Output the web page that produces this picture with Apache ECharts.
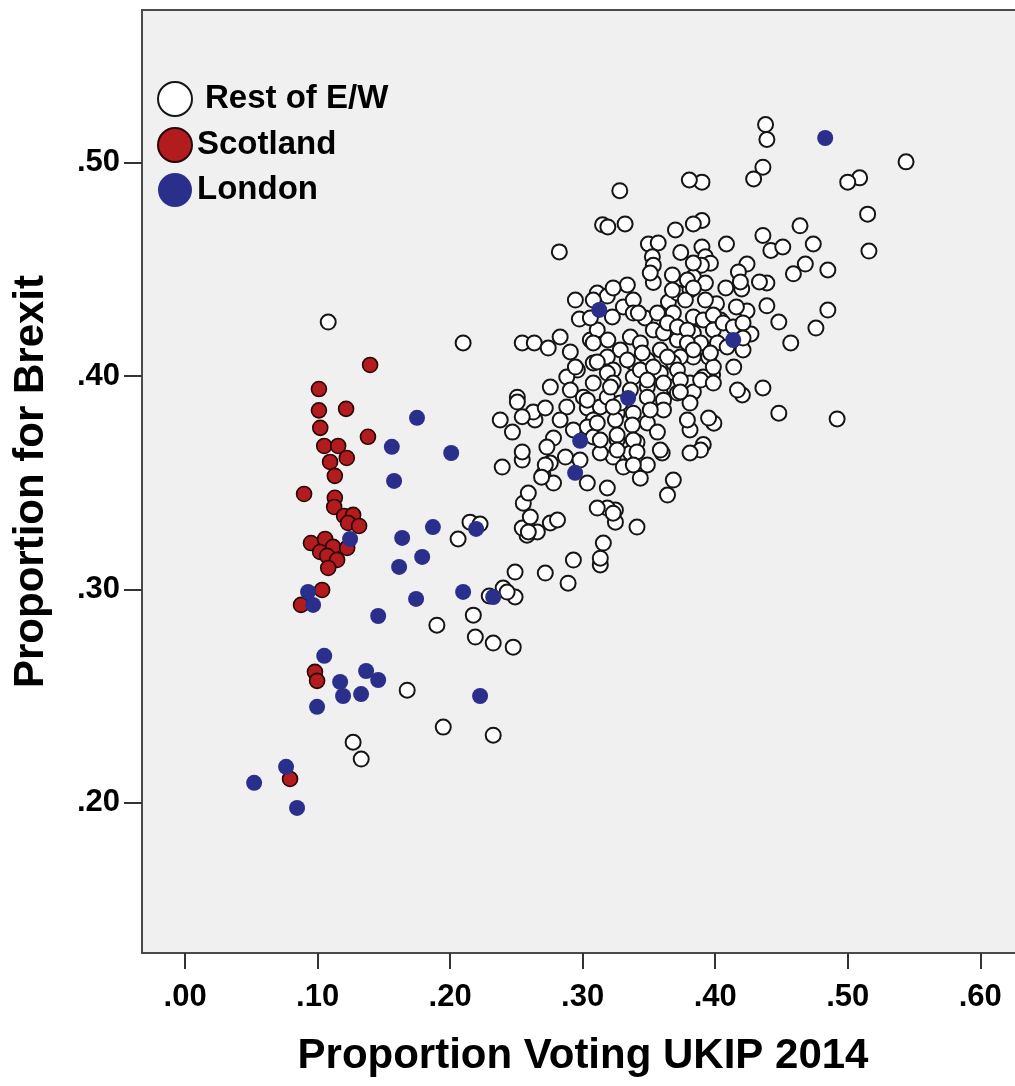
<!DOCTYPE html>
<html>
<head>
<meta charset="utf-8">
<script src="https://cdn.jsdelivr.net/npm/echarts@6/dist/echarts.min.js"></script>
<style>
html,body{margin:0;padding:0;background:#fff;}
#c{width:1015px;height:1086px;}
</style>
</head>
<body>
<div id="c"></div>
<script>
// ---- Data ----
const xTicks = [0, 0.1, 0.2, 0.3, 0.4, 0.5, 0.6];
const yTicks = [0.2, 0.3, 0.4, 0.5];
const xTitle = 'Proportion Voting UKIP 2014';
const yTitle = 'Proportion for Brexit';
const seriesNames = ['Rest of E/W', 'Scotland', 'London'];

const restEW = [
[0.438,0.518],[0.439,0.511],[0.544,0.5005],[0.436,0.498],[0.429,0.4925],[0.509,0.493],[0.500,0.491],[0.390,0.491],[0.3805,0.492],[0.328,0.487],
[0.515,0.476],[0.464,0.4705],[0.390,0.473],[0.516,0.4587],[0.436,0.466],[0.474,0.462],[0.442,0.459],[0.451,0.4606],[0.4085,0.462],[0.468,0.4526],
[0.459,0.448],[0.485,0.4498],[0.424,0.4526],[0.4175,0.4489],[0.439,0.4437],[0.408,0.4414],[0.420,0.4409],[0.439,0.433],[0.485,0.431],[0.424,0.4306],
[0.416,0.4325],[0.401,0.434],[0.448,0.4254],[0.476,0.4226],[0.427,0.4198],[0.404,0.4264],[0.457,0.4156],[0.421,0.4123],[0.414,0.4043],[0.398,0.4006],
[0.436,0.3945],[0.4205,0.3912],[0.448,0.3827],[0.492,0.38],[0.399,0.378],[0.391,0.368],
[0.2824,0.4583],[0.315,0.471],[0.319,0.470],[0.332,0.4714],[0.370,0.4686],[0.3835,0.4714],[0.374,0.458],[0.3496,0.462],[0.357,0.4625],[0.3526,0.456],
[0.3533,0.452],[0.3533,0.444],[0.390,0.4606],[0.3926,0.456],[0.3964,0.453],[0.3896,0.452],[0.3677,0.4475],[0.3835,0.4465],[0.3926,0.4437],[0.4334,0.4442],
[0.2098,0.4156],[0.2544,0.4156],[0.2635,0.4156],[0.274,0.4132],[0.283,0.4184],[0.2907,0.4114],[0.2945,0.4357],[0.311,0.439],[0.3186,0.4376],[0.3337,0.4428],
[0.2975,0.4268],[0.3224,0.4278],[0.3058,0.417],[0.311,0.4217],[0.3307,0.4325],[0.3382,0.4357],[0.3382,0.4296],[0.3647,0.4348],[0.3715,0.439],[0.381,0.4404],
[0.3775,0.4357],[0.3926,0.4357],[0.347,0.4273],[0.3533,0.4217],[0.3684,0.4296],[0.3835,0.4278],[0.391,0.4264],[0.4017,0.4254],[0.361,0.4203],[0.3715,0.417],
[0.3835,0.4203],[0.389,0.4156],[0.395,0.409],[0.3835,0.409],[0.3737,0.409],[0.3586,0.4123],[0.3488,0.4076],[0.3382,0.4062],[0.3284,0.4123],[0.319,0.417],
[0.3186,0.409],[0.308,0.4062],[0.296,0.4029],[0.288,0.3996],[0.2756,0.3949],[0.2507,0.3902],[0.323,0.4029],[0.3382,0.3996],[0.3488,0.3949],[0.3586,0.4015],
[0.3684,0.3949],[0.381,0.3968],[0.391,0.3996],[0.3986,0.4043],[0.4168,0.3935],[0.395,0.3804],[0.3835,0.3926],[0.381,0.3874],[0.381,0.3748],[0.389,0.3654],
[0.381,0.364],[0.3715,0.3921],[0.361,0.3888],[0.361,0.3842],[0.3488,0.3902],[0.3488,0.3781],[0.3382,0.3827],[0.3375,0.3771],[0.326,0.3827],[0.3247,0.3795],
[0.341,0.3691],[0.326,0.3701],[0.323,0.3621],[0.336,0.364],[0.3307,0.3574],[0.3488,0.3584],[0.360,0.364],[0.3435,0.3522],[0.3684,0.3513],[0.364,0.3443],
[0.341,0.3293],[0.3247,0.3316],[0.3247,0.3373],[0.3186,0.3382],[0.311,0.3382],[0.3186,0.3476],[0.3035,0.3499],[0.3156,0.3218],[0.3133,0.3115],[0.3133,0.3147],
[0.293,0.3138],[0.289,0.303],[0.2718,0.3077],[0.249,0.3082],[0.249,0.2965],[0.240,0.3007],[0.2175,0.288],[0.219,0.2777],[0.2325,0.2749],[0.2476,0.273],
[0.2756,0.3312],[0.281,0.3326],[0.2658,0.327],[0.258,0.3255],[0.2544,0.3288],[0.2605,0.334],[0.2552,0.3405],[0.259,0.3452],[0.206,0.3237],[0.215,0.3316],
[0.2393,0.3574],[0.2544,0.3607],[0.2544,0.3645],[0.247,0.3738],[0.2378,0.3795],[0.2507,0.3879],[0.264,0.3795],[0.2627,0.3832],[0.2718,0.3851],[0.2945,0.4043],
[0.311,0.4067],[0.3186,0.4015],[0.323,0.3968],[0.308,0.3968],[0.3005,0.3902],[0.2907,0.3935],[0.288,0.3856],[0.3035,0.3851],[0.3133,0.3856],[0.308,0.3795],
[0.283,0.3795],[0.293,0.3748],[0.278,0.371],[0.273,0.3668],[0.2756,0.3593],[0.270,0.3537],[0.278,0.3499],[0.3035,0.3762],[0.308,0.3715],[0.3133,0.364],
[0.287,0.3621],[0.3186,0.3902],[0.3284,0.3874],[0.336,0.3935],[0.3435,0.4029],[0.3337,0.4076],[0.3533,0.4043],[0.3684,0.4062],[0.389,0.3982],[0.3986,0.3968],
[0.2544,0.381],[0.2718,0.3584],[0.269,0.3527],[0.298,0.3607],[0.259,0.327],[0.323,0.3358],[0.108,0.4254],[0.243,0.2988],[0.190,0.2833],[0.1676,0.2528],
[0.1948,0.2355],[0.2325,0.2317],[0.1268,0.2284],[0.1329,0.2205],[0.2295,0.297],[0.2226,0.3307],
[0.351,0.4484],[0.3835,0.4531],[0.379,0.4451],[0.3835,0.4414],[0.419,0.4442],[0.3986,0.4287],[0.3677,0.4404],[0.3564,0.4296],[0.342,0.4296],[0.323,0.4414],
[0.308,0.4357],[0.3058,0.4273],[0.364,0.425],[0.3715,0.4231],[0.379,0.4217],[0.3986,0.4217],[0.406,0.425],[0.4137,0.4231],[0.421,0.425],[0.421,0.4179],
[0.336,0.4184],[0.3435,0.4156],[0.379,0.4156],[0.4017,0.4156],
[0.308,0.4156],[0.345,0.4109],[0.364,0.409],[0.3835,0.4123],[0.3964,0.4109],[0.409,0.4137],[0.3488,0.3982],[0.3715,0.4029],[0.3737,0.3982],[0.361,0.3968],
[0.321,0.3949],[0.3035,0.3888],[0.323,0.3856],[0.351,0.3842],[0.3737,0.3926],[0.311,0.3781],[0.326,0.3724],[0.3133,0.3701],[0.3382,0.3701],[0.3564,0.3738],
[0.379,0.3795],[0.341,0.3645],[0.326,0.3654],[0.3586,0.3654],[0.3382,0.3584]
];

const scotland = [
[0.1396,0.4053],[0.101,0.394],[0.101,0.384],[0.1215,0.3847],[0.102,0.3758],[0.138,0.3716],[0.105,0.3673],[0.1155,0.3673],[0.1094,0.3598],[0.122,0.3617],
[0.113,0.3533],[0.0898,0.3448],[0.113,0.343],[0.1125,0.3387],[0.12,0.3345],[0.1268,0.335],[0.123,0.3312],[0.1313,0.3298],[0.095,0.3218],[0.1057,0.3237],
[0.1117,0.32],[0.1019,0.3176],[0.1072,0.3158],[0.1147,0.3139],[0.108,0.3101],[0.1223,0.3195],[0.1034,0.2998],[0.0875,0.2928],[0.098,0.2614],[0.0996,0.2572],
[0.0792,0.2112]
];

const london = [
[0.175,0.3805],[0.156,0.3669],[0.2008,0.364],[0.1577,0.3509],[0.187,0.3293],[0.1638,0.3242],[0.1245,0.3237],[0.1789,0.3153],[0.1615,0.3106],[0.2196,0.3284],
[0.0928,0.2989],[0.0966,0.2928],[0.1743,0.2956],[0.2098,0.2989],[0.2325,0.2965],[0.1457,0.2876],[0.105,0.2689],[0.117,0.2567],[0.1366,0.2618],[0.1457,0.2576],
[0.1192,0.2501],[0.1328,0.251],[0.0996,0.245],[0.2226,0.2501],[0.0762,0.2169],[0.0521,0.2094],[0.0845,0.1976],[0.3125,0.4311],[0.4136,0.417],[0.3343,0.3898],
[0.2981,0.3697],[0.2943,0.3547],[0.483,0.5117]
];

// ---- Chart ----
const FONT = "'Liberation Sans', Arial, sans-serif";
const fmt = v => v.toFixed(2).replace(/^-?0\./, '.');

const chart = echarts.init(document.getElementById('c'), null, {renderer: 'canvas'});
chart.setOption({
  animation: false,
  backgroundColor: '#ffffff',
  grid: {
    left: 142, top: 10, right: -9, bottom: 133,
    show: true, backgroundColor: '#f0f0f0', borderColor: '#4a4a4a', borderWidth: 2,
    outerBoundsMode: 'none'
  },
  legend: {
    orient: 'vertical', left: 157, top: 81, padding: 0,
    itemWidth: 34, itemHeight: 34, itemGap: 10,
    textStyle: {fontFamily: FONT, fontWeight: 'bold', fontSize: 33, color: '#000'},
    data: [
      {name: seriesNames[0], icon: 'circle', textStyle: {padding: [0, 0, 0, 8]}},
      {name: seriesNames[1], icon: 'circle'},
      {name: seriesNames[2], icon: 'circle'}
    ]
  },
  xAxis: {
    type: 'value', min: -0.0325, max: 0.633,
    name: xTitle, nameLocation: 'middle', nameGap: 82,
    nameTextStyle: {fontFamily: FONT, fontWeight: 'bold', fontSize: 42, color: '#000'},
    axisLine: {show: true, onZero: false, lineStyle: {color: '#4a4a4a', width: 2}},
    axisTick: {show: true, length: 16, customValues: xTicks, lineStyle: {color: '#333', width: 2}},
    axisLabel: {customValues: xTicks, formatter: fmt, margin: 29,
      fontFamily: FONT, fontWeight: 'bold', fontSize: 31, color: '#000'},
    splitLine: {show: false}
  },
  yAxis: {
    type: 'value', min: 0.1296, max: 0.5717,
    name: yTitle, nameLocation: 'middle', nameGap: 90,
    nameTextStyle: {fontFamily: FONT, fontWeight: 'bold', fontSize: 42, color: '#000'},
    axisLine: {show: true, onZero: false, lineStyle: {color: '#4a4a4a', width: 2}},
    axisTick: {show: true, length: 18, customValues: yTicks, lineStyle: {color: '#333', width: 2}},
    axisLabel: {customValues: yTicks, formatter: fmt, margin: 22,
      fontFamily: FONT, fontWeight: 'bold', fontSize: 31, color: '#000'},
    splitLine: {show: false}
  },
  series: [
    {
      name: seriesNames[0], type: 'scatter', data: restEW, symbol: 'circle', symbolSize: 15,
      itemStyle: {color: '#ffffff', borderColor: '#151515', borderWidth: 2, opacity: 1},
      emphasis: {disabled: true}
    },
    {
      name: seriesNames[1], type: 'scatter', data: scotland, symbol: 'circle', symbolSize: 15,
      itemStyle: {color: '#b21c1e', borderColor: '#2a0505', borderWidth: 1.6, opacity: 1},
      emphasis: {disabled: true}
    },
    {
      name: seriesNames[2], type: 'scatter', data: london, symbol: 'circle', symbolSize: 16,
      itemStyle: {color: '#2b2f8c', opacity: 1},
      emphasis: {disabled: true}
    }
  ]
});
</script>
</body>
</html>
